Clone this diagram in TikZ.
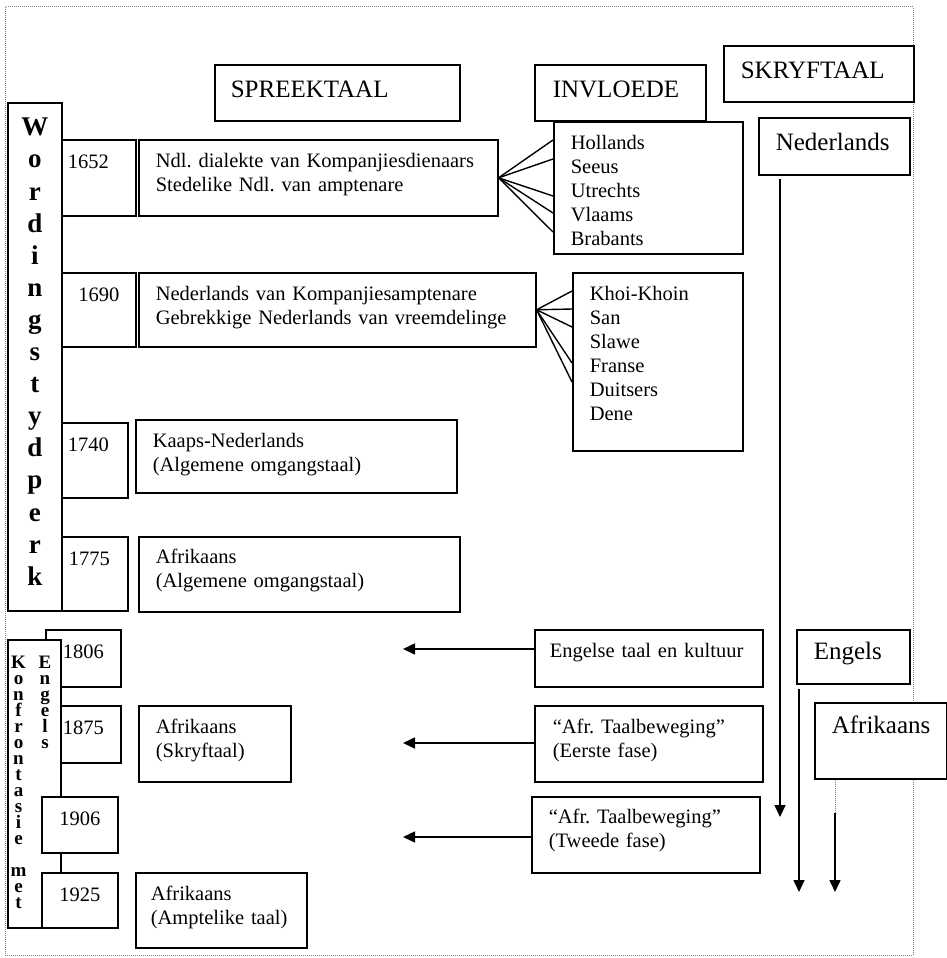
\documentclass[tikz,border=0pt]{standalone}
\usepackage{fontspec}
\setmainfont{Liberation Serif}
\usepackage{tikz}
\usetikzlibrary{arrows.meta}
\frenchspacing

\begin{document}
\begin{tikzpicture}[x=1pt, y=-1pt,
    box/.style={draw, line width=1.6pt, fill=white, anchor=north west, inner ysep=0pt, align=left, font=\fontsize{20.5}{24}\selectfont},
    head/.style={box, font=\fontsize{25}{30}\selectfont},
    vert/.style={align=center, inner sep=0pt, text width=24pt, font=\fontsize{19}{16}\selectfont\bfseries},
    fan/.style={line width=1.4pt},
    arrow/.style={-{Triangle[length=12pt, width=11pt]}, line width=1.6pt},
    frame/.style={gray, densely dotted, line width=1pt}
]
\useasboundingbox (0,0) rectangle (947,958);

% Page frame
\draw[frame] (5,7) rectangle (913,955);

% Column headers
\node[head, inner xsep=16pt, text width=213pt, text height=33pt, text depth=23pt] (spreek) at (214,64) {SPREEKTAAL};
\node[head, inner xsep=18pt, text width=135pt, text height=33pt, text depth=23pt] (invl) at (534,64) {INVLOEDE};
\node[head, inner xsep=17pt, text width=156pt, text height=33pt, text depth=23pt] (skryf) at (723,45) {SKRYFTAAL};
\node[head, inner xsep=17pt, text width=117pt, text height=33pt, text depth=24pt] (ned) at (758,117) {Nederlands};

% Wordingstydperk
\node[box, inner xsep=0pt, text width=54pt, align=center, text height=33pt, text depth=475pt, font=\fontsize{27}{32.1}\selectfont\bfseries] (wording) at (7,102)
  {W\\o\\r\\d\\i\\n\\g\\s\\t\\y\\d\\p\\e\\r\\k};

\node[box, inner xsep=6pt, text width=62pt, text height=29pt, text depth=47pt] (y1652) at (61,139) {1652};
\node[box, inner xsep=17pt, text width=325pt, text height=28pt, text depth=48pt] (m1652) at (138,139)
  {Ndl. dialekte van Kompanjiesdienaars\\Stedelike Ndl. van amptenare};
\node[box, inner xsep=17pt, text width=155pt, text height=28pt, text depth=104pt] (hol) at (553,121)
  {Hollands\\Seeus\\Utrechts\\Vlaams\\Brabants};

\node[box, inner xsep=6pt, text width=62pt, align=center, text height=29pt, text depth=45pt] (y1690) at (61,272) {1690};
\node[box, inner xsep=17pt, text width=363pt, text height=28pt, text depth=46pt] (m1690) at (138,272)
  {Nederlands van Kompanjiesamptenare\\Gebrekkige Nederlands van vreemdelinge};
\node[box, inner xsep=17pt, text width=136pt, text height=28pt, text depth=150pt] (khoi) at (572,272)
  {Khoi-Khoin\\San\\Slawe\\Franse\\Duitsers\\Dene};

\node[box, inner xsep=6pt, text width=54pt, text height=29pt, text depth=46pt] (y1740) at (61,422) {1740};
\node[box, inner xsep=17pt, text width=287pt, text height=28pt, text depth=45pt] (m1740) at (135,419)
  {Kaaps-Nederlands\\(Algemene omgangstaal)};

\node[box, inner xsep=7pt, text width=52pt, text height=29pt, text depth=45pt] (y1775) at (61,536) {1775};
\node[box, inner xsep=17pt, text width=287pt, text height=27pt, text depth=48pt] (m1775) at (138,536)
  {Afrikaans\\(Algemene omgangstaal)};

% Konfrontasie met Engels
\node[box, inner xsep=6pt, text width=63pt, align=center, text height=29pt, text depth=28pt] (y1806) at (45,629) {1806};
\node[box, inner xsep=6pt, text width=63pt, align=center, text height=29pt, text depth=28pt] (y1875) at (45,705) {1875};
\node[box, inner sep=0pt, minimum width=53pt, minimum height=288pt] (konf) at (7,639) {};
\node[vert, anchor=base] (konfA) at (18.5,668) {K\\o\\n\\f\\r\\o\\n\\t\\a\\s\\i\\e\\[16pt]m\\e\\t};
\node[vert, anchor=base] (konfB) at (45,668) {E\\n\\g\\e\\l\\s};
\node[box, inner xsep=6pt, text width=64pt, align=center, text height=29pt, text depth=27pt] (y1906) at (41,796) {1906};
\node[box, inner xsep=6pt, text width=64pt, align=center, text height=29pt, text depth=26pt] (y1925) at (41,872) {1925};

\node[box, inner xsep=17pt, text width=118pt, text height=28pt, text depth=48pt] (m1875) at (138,705)
  {Afrikaans\\(Skryftaal)};
\node[box, inner xsep=15pt, text width=141pt, text height=28pt, text depth=47pt] (m1925) at (135,872)
  {Afrikaans\\(Amptelike taal)};

\node[box, inner xsep=15pt, text width=198pt, text height=28pt, text depth=29pt] (eng) at (534,629) {Engelse taal en kultuur};
\node[box, inner xsep=18pt, text width=192pt, text height=28pt, text depth=48pt] (taal1) at (534,705)
  {“Afr. Taalbeweging”\\(Eerste fase)};
\node[box, inner xsep=17pt, text width=194pt, text height=27pt, text depth=49pt] (taal2) at (531,796)
  {“Afr. Taalbeweging”\\(Tweede fase)};

\node[head, inner xsep=17pt, text width=79pt, text height=30pt, text depth=24pt] (engels) at (796,629) {Engels};
\node[head, inner xsep=17pt, text width=98pt, text height=31pt, text depth=45pt] (afr) at (814,702) {Afrikaans};

% Influences
\foreach \y in {140,159,196,213,232}
  \draw[fan] (m1652.east) -- (hol.west |- 0,\y);
\foreach \y in {291,309,327,363,382}
  \draw[fan] (m1690.east) -- (khoi.west |- 0,\y);

\coordinate (tip1) at (403,649);
\coordinate (tip2) at (403,743);
\coordinate (tip3) at (403,837);
\draw[arrow] (eng.west |- tip1) -- (tip1);
\draw[arrow] (taal1.west |- tip2) -- (tip2);
\draw[arrow] (taal2.west |- tip3) -- (tip3);

% Written language
\coordinate (nedend) at (780,817);
\coordinate (engend) at (799,892);
\coordinate (afrmid) at (835,813);
\coordinate (afrend) at (835,892);
\draw[arrow, shorten <=3pt] (ned.south -| nedend) -- (nedend);
\draw[arrow, shorten <=4pt] (engels.south -| engend) -- (engend);
\draw[frame] (afr.south -| afrmid) -- (afrmid);
\draw[arrow] (afrmid) -- (afrend);

\end{tikzpicture}
\end{document}
